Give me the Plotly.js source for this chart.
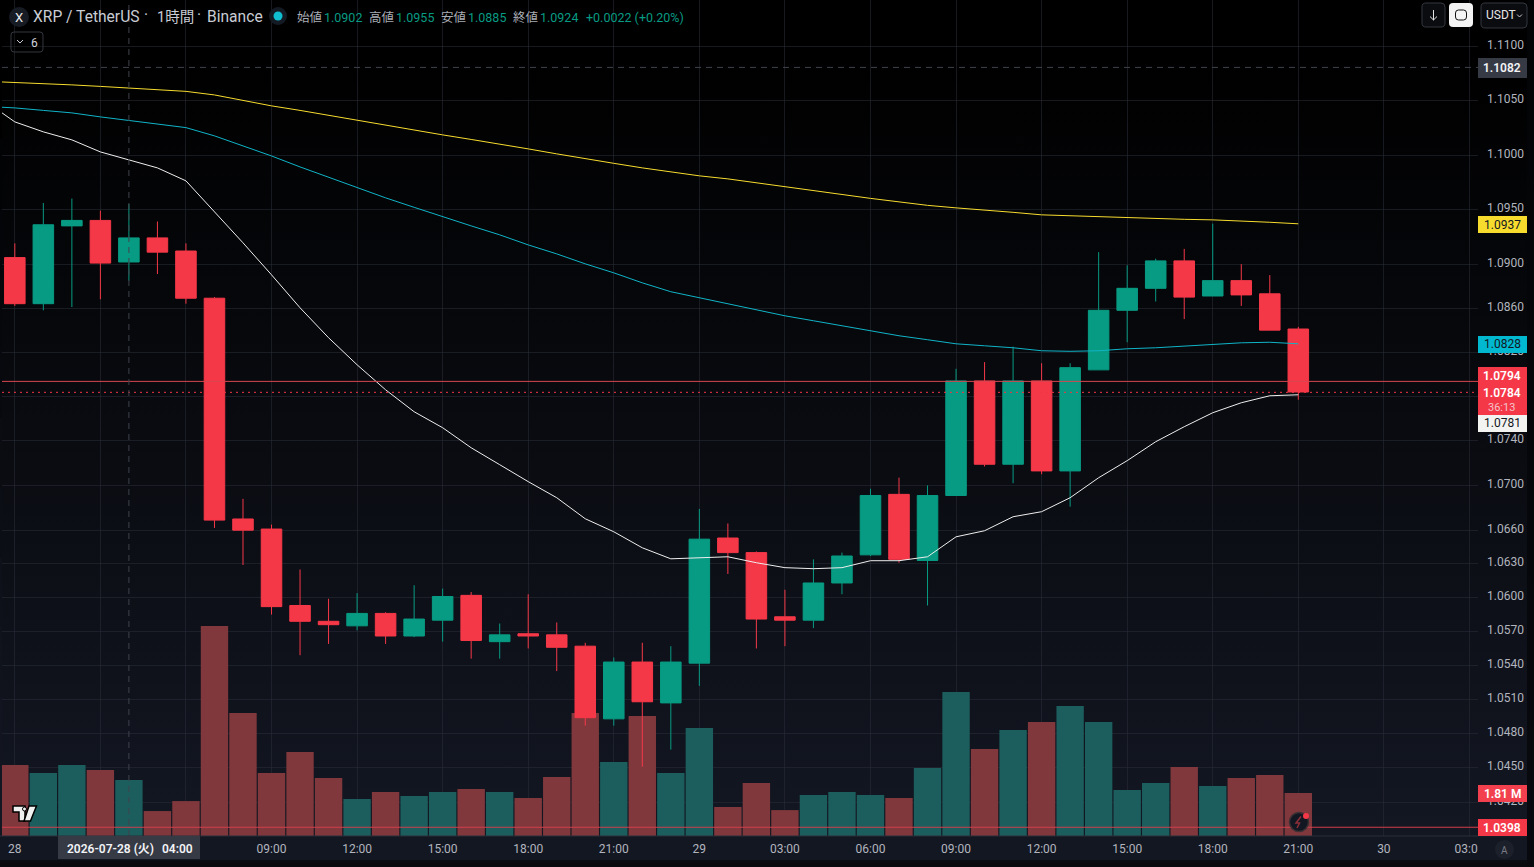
<!DOCTYPE html>
<html><head><meta charset="utf-8">
<script src="https://cdn.plot.ly/plotly-3.0.1.min.js"></script>
<style>
html,body{margin:0;padding:0;width:1534px;height:867px;overflow:hidden;background:linear-gradient(#000 0,#000 60px,#131722 836px,#131722 862px,#0a0c10 863px,#0a0c10 867px)}
#chart{width:1534px;height:867px}
</style></head><body><div id="chart"></div>
<script>
const times=['2026-07-28 00:00','2026-07-28 01:00','2026-07-28 02:00','2026-07-28 03:00','2026-07-28 04:00','2026-07-28 05:00','2026-07-28 06:00','2026-07-28 07:00','2026-07-28 08:00','2026-07-28 09:00','2026-07-28 10:00','2026-07-28 11:00','2026-07-28 12:00','2026-07-28 13:00','2026-07-28 14:00','2026-07-28 15:00','2026-07-28 16:00','2026-07-28 17:00','2026-07-28 18:00','2026-07-28 19:00','2026-07-28 20:00','2026-07-28 21:00','2026-07-28 22:00','2026-07-28 23:00','2026-07-29 00:00','2026-07-29 01:00','2026-07-29 02:00','2026-07-29 03:00','2026-07-29 04:00','2026-07-29 05:00','2026-07-29 06:00','2026-07-29 07:00','2026-07-29 08:00','2026-07-29 09:00','2026-07-29 10:00','2026-07-29 11:00','2026-07-29 12:00','2026-07-29 13:00','2026-07-29 14:00','2026-07-29 15:00','2026-07-29 16:00','2026-07-29 17:00','2026-07-29 18:00','2026-07-29 19:00','2026-07-29 20:00','2026-07-29 21:00'];
const opens=[1.0906,1.0864,1.0935,1.0940,1.0902,1.0924,1.0912,1.0869,1.0670,1.0661,1.0593,1.0579,1.0575,1.0586,1.0566,1.0580,1.0602,1.0561,1.0568,1.0567,1.0557,1.0493,1.0543,1.0507,1.0542,1.0653,1.0640,1.0583,1.0580,1.0613,1.0638,1.0692,1.0633,1.0691,1.0794,1.0719,1.0794,1.0713,1.0804,1.0858,1.0878,1.0903,1.0871,1.0885,1.0873,1.0841];
const highs=[1.0919,1.0956,1.0960,1.0949,1.0955,1.0939,1.0919,1.0870,1.0688,1.0665,1.0625,1.0599,1.0604,1.0587,1.0611,1.0608,1.0605,1.0577,1.0603,1.0578,1.0560,1.0547,1.0560,1.0557,1.0679,1.0666,1.0641,1.0607,1.0634,1.0640,1.0697,1.0707,1.0700,1.0805,1.0811,1.0825,1.0810,1.0810,1.0911,1.0899,1.0905,1.0914,1.0937,1.0900,1.0890,1.0843];
const lows=[1.0862,1.0858,1.0861,1.0868,1.0885,1.0891,1.0864,1.0662,1.0629,1.0585,1.0549,1.0559,1.0571,1.0559,1.0565,1.0561,1.0546,1.0546,1.0555,1.0535,1.0487,1.0487,1.0451,1.0466,1.0522,1.0621,1.0555,1.0557,1.0573,1.0603,1.0637,1.0631,1.0593,1.0691,1.0717,1.0702,1.0710,1.0681,1.0804,1.0829,1.0866,1.0850,1.0871,1.0862,1.0840,1.0777];
const closes=[1.0864,1.0936,1.0940,1.0901,1.0924,1.0911,1.0869,1.0669,1.0660,1.0592,1.0579,1.0576,1.0586,1.0566,1.0581,1.0601,1.0562,1.0567,1.0566,1.0556,1.0494,1.0543,1.0508,1.0543,1.0652,1.0640,1.0581,1.0580,1.0613,1.0637,1.0691,1.0634,1.0691,1.0794,1.0719,1.0794,1.0713,1.0806,1.0858,1.0878,1.0903,1.0870,1.0885,1.0872,1.0840,1.0784];
const volumes=[2.99,2.65,2.99,2.78,2.36,1.05,1.47,8.84,5.18,2.65,3.54,2.44,1.56,1.85,1.68,1.85,1.98,1.85,1.60,2.48,5.18,3.11,5.05,2.65,4.55,1.22,2.23,1.09,1.73,1.85,1.73,1.60,2.86,6.06,3.66,4.46,4.80,5.47,4.80,1.94,2.23,2.90,2.10,2.44,2.57,1.81];
const ma20=[1.10491,1.10306,1.10214,1.10140,1.10029,1.09956,1.09882,1.09763,1.09479,1.09195,1.08903,1.08603,1.08331,1.08086,1.07860,1.07662,1.07518,1.07338,1.07186,1.07034,1.06890,1.06702,1.06586,1.06443,1.06345,1.06354,1.06363,1.06310,1.06266,1.06257,1.06266,1.06328,1.06328,1.06363,1.06541,1.06595,1.06720,1.06765,1.06890,1.07069,1.07222,1.07392,1.07527,1.07653,1.07743,1.07806,1.07815];
const ma50=[1.10449,1.10435,1.10412,1.10389,1.10352,1.10318,1.10288,1.10253,1.10177,1.10084,1.09992,1.09891,1.09795,1.09699,1.09607,1.09520,1.09433,1.09350,1.09268,1.09176,1.09094,1.09003,1.08921,1.08830,1.08749,1.08694,1.08639,1.08585,1.08530,1.08485,1.08440,1.08394,1.08349,1.08313,1.08276,1.08258,1.08240,1.08213,1.08208,1.08213,1.08231,1.08240,1.08254,1.08272,1.08285,1.08290,1.08276];
const ma100=[1.10681,1.10671,1.10657,1.10648,1.10634,1.10620,1.10606,1.10588,1.10555,1.10505,1.10454,1.10412,1.10366,1.10324,1.10278,1.10232,1.10186,1.10144,1.10103,1.10057,1.10011,1.09965,1.09924,1.09882,1.09846,1.09809,1.09781,1.09745,1.09708,1.09671,1.09634,1.09602,1.09570,1.09538,1.09515,1.09497,1.09474,1.09451,1.09442,1.09433,1.09424,1.09419,1.09410,1.09405,1.09396,1.09383,1.09369];
const priceTicks=[1.11,1.105,1.10,1.095,1.09,1.086,1.082,1.078,1.074,1.07,1.066,1.063,1.06,1.057,1.054,1.051,1.048,1.045,1.042];
const priceTickText=['1.1100','1.1050','1.1000','1.0950','1.0900','1.0860','1.0820','','1.0740','1.0700','1.0660','1.0630','1.0600','1.0570','1.0540','1.0510','1.0480','1.0450','1.0420'];
const timeTickVals=['2026-07-28 00:00','2026-07-28 03:00','2026-07-28 06:00','2026-07-28 09:00','2026-07-28 12:00','2026-07-28 15:00','2026-07-28 18:00','2026-07-28 21:00','2026-07-29 00:00','2026-07-29 03:00','2026-07-29 06:00','2026-07-29 09:00','2026-07-29 12:00','2026-07-29 15:00','2026-07-29 18:00','2026-07-29 21:00','2026-07-30 00:00','2026-07-30 03:00'];
const timeTickText=['28','','','09:00','12:00','15:00','18:00','21:00','29','03:00','06:00','09:00','12:00','15:00','18:00','21:00','30','03:00'];
const maTimes=['2026-07-27 23:00'].concat(times);

const UP='#089b83',DOWN='#f53848',UPV='#1c5e5e',DOWNV='#80383c';
const FONT='Roboto, "Noto Sans CJK JP", sans-serif';
const X=p=>p/1478, Y=p=>1-p/836;
const shapes=[],annotations=[];
function box(x0,y0,x1,y1,fill,line){shapes.push({type:'rect',layer:'above',xref:'paper',yref:'paper',x0:X(x0),x1:X(x1),y0:Y(y0),y1:Y(y1),fillcolor:fill,line:line?{color:line,width:1}:{width:0}});}
function rrect(x0,y0,x1,y1,r,fill,line){const f=n=>n.toFixed(5);
 const a=(x,y)=>f(X(x))+','+f(Y(y));
 const path='M'+a(x0+r,y0)+' L'+a(x1-r,y0)+' Q'+a(x1,y0)+' '+a(x1,y0+r)+' L'+a(x1,y1-r)+' Q'+a(x1,y1)+' '+a(x1-r,y1)+' L'+a(x0+r,y1)+' Q'+a(x0,y1)+' '+a(x0,y1-r)+' L'+a(x0,y0+r)+' Q'+a(x0,y0)+' '+a(x0+r,y0)+' Z';
 shapes.push({type:'path',layer:'above',xref:'paper',yref:'paper',path,fillcolor:fill,line:line?{color:line,width:1}:{width:0}});}
function poly(pts,fill,line,w){const path='M'+pts.map(p=>X(p[0]).toFixed(5)+','+Y(p[1]).toFixed(5)).join(' L')+(fill?' Z':'');
 shapes.push({type:'path',layer:'above',xref:'paper',yref:'paper',path,fillcolor:fill||'rgba(0,0,0,0)',line:line?{color:line,width:w||1}:{width:0}});}
function circ(cx,cy,r,fill,line,w){shapes.push({type:'circle',layer:'above',xref:'paper',yref:'paper',x0:X(cx-r),x1:X(cx+r),y0:Y(cy-r),y1:Y(cy+r),fillcolor:fill,line:line?{color:line,width:w||1}:{width:0}});}
function text(t,x,y,color,size,anchor,weight){annotations.push({xref:'paper',yref:'paper',x:X(x),y:Y(y),text:t,showarrow:false,xanchor:anchor||'left',yanchor:'middle',borderpad:0,font:{family:FONT,size:size||12,color:color,weight:weight||400}});}

// left margin strip of the pane
const leftStrip=['#000000','#000000','#020304','#040508','#06070b','#08090e','#0a0c12','#0c0e15','#0e1119','#10131c','#12151f','#131722'];
leftStrip.forEach((c,i)=>box(0,i*836/12,2,(i+1)*836/12,c));

// chart furniture
box(1527,0,1534,867,'rgba(4,5,8,0.75)');
box(0,860,1534,867,'rgba(8,10,14,0.8)');
poly([[0,836],[1527,836]],null,'#2a2e39',1);

// header
circ(19,17,10,'#171b24');
text('X',19,17,'#e8e8ea',13,'center');
text('XRP / TetherUS',32,17,'#c9ccd4',15.6);
text('·',146,15,'#c9ccd4',15.6,'center');
text('1時間',156,17,'#c9ccd4',14.5);
text('·',199,15,'#c9ccd4',15.6,'center');
text('Binance',206,17,'#c9ccd4',15.6);
circ(278,16,9,'#141a24');
circ(278,16,4.5,'#10bcd0');
const headerLabels=['始値','高値','安値','終値'];
const headerValues=['1.0902','1.0955','1.0885','1.0924'];
const headerX=[296,368,440,512];
headerLabels.forEach((l,i)=>{text(l,headerX[i],17,'#a9acb4',12.5);text(headerValues[i],headerX[i]+27,17,UP,12.5);});
text('+0.0022 (+0.20%)',585,17,UP,12.5);
rrect(11,32,43,52,3,'rgba(0,0,0,0.2)','#33373f');
poly([[17,40],[20,43],[23,40]],null,'#c9ccd4',1);
text('6',34,42.5,'#d1d4dc',12,'center');

// top right buttons
rrect(1422,3,1445,27,4,'#0b0c10','#33373f');
poly([[1433.5,10],[1433.5,20]],null,'#e6e6e6',1);
poly([[1430,16.5],[1433.5,20],[1437,16.5]],null,'#e6e6e6',1);
rrect(1449,3,1473,27,4,'#f4f4f4');
rrect(1455.5,10,1466.5,20,3,'#f4f4f4','#111');
rrect(1481,3,1527,28,4,'#0b0c10','#33373f');
text('USDT',1485,15.5,'#e6e6e6',12);
poly([[1517,14.5],[1519.5,17],[1522,14.5]],null,'#c9ccd4',1);

// price labels
const W=600;
box(1478,58,1527,78,'#363a45');
text('1.1082',1502.5,68,'#f2f3f5',12,'center',W);
box(1478,216,1527,233,'#f7dc2e');
text('1.0937',1502.5,224.5,'#131722',12,'center');
box(1478,336,1527,353,'#00b8d0');
text('1.0828',1502.5,344.5,'#131722',12,'center');
box(1478,367,1527,415,DOWN);
text('1.0794',1502.5,376,'#ffffff',12,'center',W);
text('1.0784',1502.5,393,'#ffffff',12,'center',W);
text('36:13',1501,407,'#f3c3c8',11,'center');
box(1478,415,1527,432,'#f3f3f1');
text('1.0781',1502.5,423.5,'#131722',12,'center');
box(1478,785,1527,802,'#f2404e');
text('1.81 M',1502.5,794,'#ffffff',12,'center',W);
box(1478,819,1527,836,DOWN);
text('1.0398',1502.5,827.5,'#ffffff',12,'center',W);

// x axis overlays
box(58,836,200,859,'#363a45');
text('2026-07-28 (火)',66,849,'#f2f3f5',12,'left',W);
text('04:00',161,849,'#f2f3f5',12,'left',W);
box(1478,836.5,1527,860,'#131722');
circ(1504.5,849.5,9.5,'#1c202a');
text('A',1504.5,850,'#787b86',10,'center');

// TradingView mark
const outline='#000';
poly([[13,806],[25,806],[25,821],[19,821],[19,812],[13,812]],'#f0f0f0',outline,1.5);
circ(24.5,809,2,'#f0f0f0',outline,1);
poly([[29,806],[36.5,806],[30.5,821],[24,821]],'#f0f0f0',outline,1.5);

// lightning badge
circ(1299,822,9.5,'#131722','#3b3034',1.5);
poly([[1301,816.5],[1296,823],[1299.5,823],[1297,828]],null,'#8c2f38',1.5);
circ(1306,816,3,DOWN);

// level lines, through the price axis
const lvl=(v,color,dash,w)=>({type:'line',layer:'above',xref:'paper',yref:'y2',x0:X(2),x1:1,y0:v,y1:v,line:{color,dash,width:w||1}});
const levels=[lvl(1.07936,'#d5464f','solid'),lvl(1.07837,'#f23645','2px,4px'),lvl(1.03982,'#cf3f4b','solid'),lvl(1.1081,'#3f434c','6px,5px')];
const crosshair={type:'line',layer:'above',xref:'x',yref:'paper',x0:'2026-07-28 04:00',x1:'2026-07-28 04:00',y0:0,y1:1,line:{color:'#3f434c',dash:'6px,5px',width:1}};

const traces=[
 {type:'bar',x:times,y:volumes,yaxis:'y',marker:{color:closes.map((c,i)=>c>=opens[i]?UPV:DOWNV),line:{width:0}},hoverinfo:'skip',showlegend:false},
 {type:'scatter',mode:'lines',x:maTimes,y:ma100,yaxis:'y2',line:{color:'#f7dc2e',width:1},hoverinfo:'skip',showlegend:false},
 {type:'scatter',mode:'lines',x:maTimes,y:ma50,yaxis:'y2',line:{color:'#10b4c8',width:1},hoverinfo:'skip',showlegend:false},
 {type:'scatter',mode:'lines',x:maTimes,y:ma20,yaxis:'y2',line:{color:'#eeeeee',width:1},hoverinfo:'skip',showlegend:false},
 {type:'candlestick',x:times,open:opens,high:highs,low:lows,close:closes,yaxis:'y2',whiskerwidth:0,
  increasing:{line:{color:UP,width:1},fillcolor:UP},decreasing:{line:{color:DOWN,width:1},fillcolor:DOWN},hoverinfo:'skip',showlegend:false},
 {type:'scatter',mode:'lines',x:[times[0]],y:[closes[0]],yaxis:'y3',line:{width:0},hoverinfo:'skip',showlegend:false}
];
const GRID='rgba(42,46,57,0.55)';
const priceRange=[Math.log10(1.03906),Math.log10(1.11437)];
const labelLift=0.00006; // tick labels sit slightly above their gridlines
const layout={width:1534,height:867,margin:{l:0,r:56,t:0,b:31,pad:0},paper_bgcolor:'rgba(0,0,0,0)',plot_bgcolor:'rgba(0,0,0,0)',
 showlegend:false,bargap:0.04,boxgap:0.28,boxgroupgap:0,hovermode:false,font:{family:FONT},
 xaxis:{type:'date',range:['2026-07-27 23:28:50','2026-07-30 03:18:00'],rangeslider:{visible:false},tickmode:'array',tickvals:timeTickVals,ticktext:timeTickText,
  tickfont:{family:FONT,size:12,color:'#b2b5be'},showgrid:true,gridcolor:GRID,gridwidth:1,ticks:'',ticklabelstandoff:4,zeroline:false,showline:false,fixedrange:true},
 yaxis:{type:'linear',range:[0,35.18],visible:false,showgrid:false,zeroline:false,fixedrange:true},
 yaxis2:{type:'log',overlaying:'y',side:'right',range:priceRange,tickmode:'array',tickvals:priceTicks,showticklabels:false,
  showgrid:true,gridcolor:GRID,gridwidth:1,ticks:'',zeroline:false,showline:false,fixedrange:true},
 yaxis3:{type:'log',overlaying:'y',side:'right',range:[priceRange[0]-labelLift,priceRange[1]-labelLift],tickmode:'array',tickvals:priceTicks,ticktext:priceTickText,
  tickfont:{family:FONT,size:12,color:'#b2b5be'},showgrid:false,ticks:'',ticklabelstandoff:8,zeroline:false,showline:false,fixedrange:true},
 shapes:levels.concat([crosshair]).concat(shapes),annotations
};
Plotly.newPlot('chart',traces,layout,{displayModeBar:false,responsive:false,staticPlot:true});
</script></body></html>
